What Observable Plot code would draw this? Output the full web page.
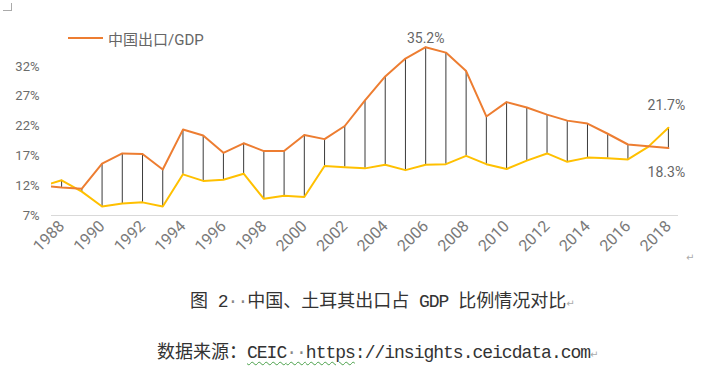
<!DOCTYPE html>
<html><head><meta charset="utf-8">
<script src="https://cdn.jsdelivr.net/npm/d3@7"></script>
<script src="https://cdn.jsdelivr.net/npm/@observablehq/plot@0.6"></script>
<style>
body{margin:0;background:#fff;width:728px;height:376px;overflow:hidden;position:relative;font-family:Roboto,"Noto Sans CJK SC",sans-serif;}
#chart{position:absolute;left:0;top:0;}
.corner{position:absolute;left:3px;top:3px;width:8px;height:7px;border-right:1px solid #aaa;border-bottom:1px solid #aaa;}
.legend{position:absolute;left:68px;top:27px;display:flex;align-items:center;font-size:15px;color:#666;font-family:Roboto,"Noto Sans CJK SC",sans-serif;height:22px;}
.legend .sw{width:35px;height:2px;background:#ED7D31;margin-right:5px;}
.cap{position:absolute;white-space:nowrap;font-family:"Noto Sans CJK SC",sans-serif;font-size:18px;color:#333;line-height:24px;}
.mono{font-family:"Liberation Mono",monospace;letter-spacing:-1px;}
.dot{color:#888;}
.ret{color:#aaa;font-size:10px;font-family:"DejaVu Sans",sans-serif;}
.wavy{text-decoration:underline wavy #4aa04a;text-decoration-thickness:1px;text-underline-offset:3px;}
#axret{position:absolute;left:686px;top:252px;}
</style></head><body>
<div class="corner"></div>
<div id="chart"></div>
<div class="legend"><div class="sw"></div><span id="legendLabel"></span></div>
<div class="cap" style="left:190px;top:287px">图<span class="mono"> 2</span><span class="mono dot">··</span>中国、土耳其出口占<span class="mono"> GDP </span>比例情况对比<span class="ret">↵</span></div>
<div class="cap" style="left:157px;top:338px">数据来源：<span class="mono wavy">CEIC<span class="dot">··</span>https</span><span class="mono">://insights.ceicdata.com</span><span class="ret">↵</span></div>
<div id="axret" class="ret">↵</div>
<script>
// Data (percent of GDP)
const years = [1987,1988,1989,1990,1991,1992,1993,1994,1995,1996,1997,1998,1999,2000,2001,2002,2003,2004,2005,2006,2007,2008,2009,2010,2011,2012,2013,2014,2015,2016,2017,2018];
const chinaExportGDP = [12.0,11.7,11.5,15.7,17.4,17.3,14.7,21.4,20.4,17.5,19.1,17.8,17.8,20.5,19.8,22.0,26.3,30.3,33.3,35.2,34.3,31.2,23.6,26.0,25.1,23.9,22.9,22.4,20.7,18.9,18.6,18.3];
const turkeyExportGDP = [11.9,12.9,11.0,8.5,9.0,9.2,8.5,13.9,12.8,13.0,14.0,9.8,10.3,10.1,15.3,15.1,14.9,15.5,14.6,15.5,15.6,17.0,15.6,14.8,16.2,17.4,16.0,16.7,16.6,16.4,18.5,21.7];
const yTicks = [7,12,17,22,27,32];
const xTicks = [1988,1990,1992,1994,1996,1998,2000,2002,2004,2006,2008,2010,2012,2014,2016,2018];
const legendLabel = "中国出口/GDP";

document.getElementById("legendLabel").textContent = legendLabel;

const data = years.map((y, i) => ({year: y, china: chinaExportGDP[i], turkey: turkeyExportGDP[i]}));
const peak = data.filter(d => d.year === 2006);
const last = data.filter(d => d.year === 2018);

const chart = Plot.plot({
  width: 728,
  height: 275,
  marginLeft: 51,
  marginRight: 50,
  marginTop: 36,
  marginBottom: 60,
  style: {fontFamily: "Roboto, sans-serif", fontSize: "13px", background: "transparent"},
  x: {type: "linear", domain: [1987.5, 2018.5]},
  y: {domain: [7, 37]},
  marks: [
    Plot.ruleY([7], {stroke: "#d9d9d9", strokeWidth: 1}),
    Plot.axisY({ticks: yTicks, tickFormat: d => d + "%", tickSize: 0, tickPadding: 12, fill: "#6b6b6b", fontSize: 13, label: null}),
    Plot.axisX({ticks: xTicks, tickFormat: d => String(d), tickSize: 0, tickPadding: 8, tickRotate: -45, textAnchor: "end", fill: "#7a7a7a", fontSize: 16, label: null}),
    Plot.ruleX(data, {x: "year", y1: "china", y2: "turkey", stroke: "#3a3a3a", strokeWidth: 1, clip: true}),
    Plot.line(data, {x: "year", y: "turkey", stroke: "#FFC000", strokeWidth: 2, clip: true}),
    Plot.line(data, {x: "year", y: "china", stroke: "#ED7D31", strokeWidth: 2, clip: true}),
    Plot.text(peak, {x: "year", y: "china", text: d => d.china.toFixed(1) + "%", dy: -9, fill: "#666", fontSize: 14}),
    Plot.text(last, {x: "year", y: "turkey", text: d => d.turkey.toFixed(1) + "%", dy: -22, dx: -2, fill: "#666", fontSize: 14}),
    Plot.text(last, {x: "year", y: "china", text: d => d.china.toFixed(1) + "%", dy: 24, dx: -2, fill: "#666", fontSize: 14})
  ]
});
document.getElementById("chart").appendChild(chart);
</script>
</body></html>
